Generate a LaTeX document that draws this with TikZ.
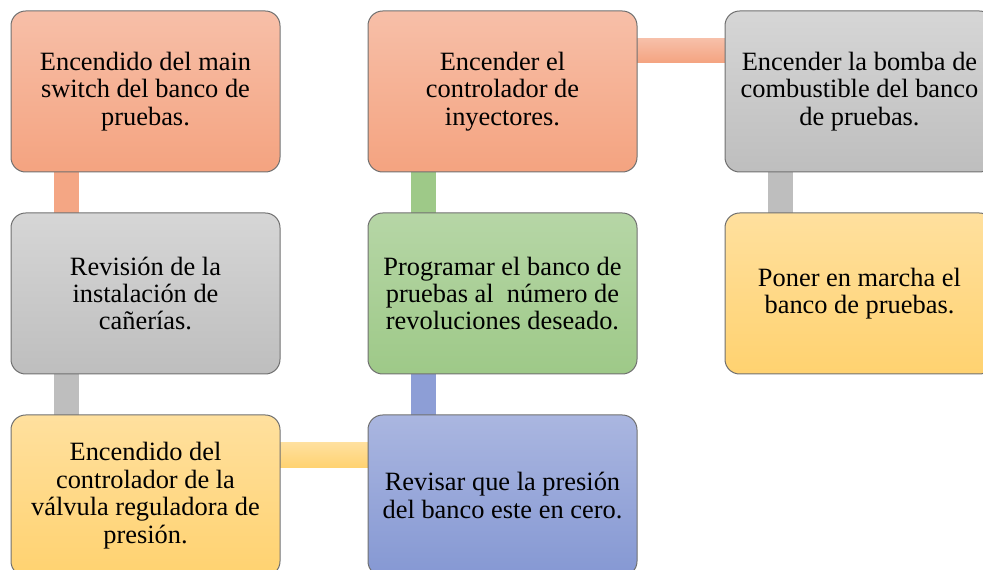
\documentclass[tikz,border=0pt]{standalone}
\usepackage{fontspec}
\setmainfont{Liberation Serif}
\usepackage{tikz}
\usetikzlibrary{positioning, calc, backgrounds}
\definecolor{salmonT}{RGB}{247,191,168}
\definecolor{salmonB}{RGB}{244,163,128}
\definecolor{grayT}{RGB}{214,214,214}
\definecolor{grayB}{RGB}{190,190,190}
\definecolor{yellowT}{RGB}{255,224,158}
\definecolor{yellowB}{RGB}{255,210,112}
\definecolor{greenT}{RGB}{182,214,166}
\definecolor{greenB}{RGB}{158,201,136}
\definecolor{blueT}{RGB}{170,182,224}
\definecolor{blueB}{RGB}{133,152,211}
\definecolor{edgegray}{RGB}{112,112,112}

\begin{document}
\begin{tikzpicture}[x=0.75pt, y=-0.75pt, node distance=30.75pt and 66pt,
	stepbox/.style={draw=edgegray, line width=0.75pt, rounded corners=11pt, minimum width=201.75pt, minimum height=120.75pt, inner sep=0pt, outer sep=0pt, align=center, font=\fontsize{19.8}{20.6}\selectfont},
	orangebox/.style={stepbox, top color=salmonT, bottom color=salmonB},
	graybox/.style={stepbox, top color=grayT, bottom color=grayB},
	yellowbox/.style={stepbox, top color=yellowT, bottom color=yellowB},
	greenbox/.style={stepbox, top color=greenT, bottom color=greenB},
	bluebox/.style={stepbox, top color=blueT, bottom color=blueB},
	vbar/.style={line width=18.75pt}]
		\useasboundingbox (0,0) rectangle (983,570);
		\clip (0,0) rectangle (983,570);
		
		\node[orangebox, anchor=north west] (encendido) at (11,11) {Encendido del main\\switch del banco de\\pruebas.};
		\node[graybox, below=of encendido] (revision) {Revisión de la\\instalación de\\cañerías.};
		\node[yellowbox, below=of revision] (valvula) {Encendido del\\controlador de la\\válvula reguladora de\\presión.};
		\node[bluebox, right=of valvula] (presion) {Revisar que la presión\\del banco este en cero.};
		\node[greenbox, above=of presion] (programar) {Programar el banco de\\pruebas al\ \ número de\\revoluciones deseado.};
		\node[orangebox, above=of programar] (inyectores) {Encender el\\controlador de\\inyectores.};
		\node[graybox, right=of inyectores] (bomba) {Encender la bomba de\\combustible del banco\\de pruebas.};
		\node[yellowbox, below=of bomba] (marcha) {Poner en marcha el\\banco de pruebas.};
		
		% conectores
		\begin{scope}[on background layer]
		\draw[vbar, salmonB!90!salmonT] ($(encendido.south west)+(55.5,0)$) -- ($(revision.north west)+(55.5,0)$);
		\draw[vbar, grayB] ($(revision.south west)+(55.5,0)$) -- ($(valvula.north west)+(55.5,0)$);
		\shade[top color=yellowT, bottom color=yellowB] ($(valvula.north east)+(0,28)$) rectangle ($(presion.north west)+(0,53)$);
		\draw[vbar, blueB!80!blueT] ($(presion.north west)+(55.5,0)$) -- ($(programar.south west)+(55.5,0)$);
		\draw[vbar, greenB] ($(programar.north west)+(55.5,0)$) -- ($(inyectores.south west)+(55.5,0)$);
		\shade[top color=salmonT, bottom color=salmonB] ($(inyectores.north east)+(0,28)$) rectangle ($(bomba.north west)+(0,52)$);
		\draw[vbar, grayB] ($(bomba.south west)+(55.5,0)$) -- ($(marcha.north west)+(55.5,0)$);
		\end{scope}
	\end{tikzpicture}
\end{document}
